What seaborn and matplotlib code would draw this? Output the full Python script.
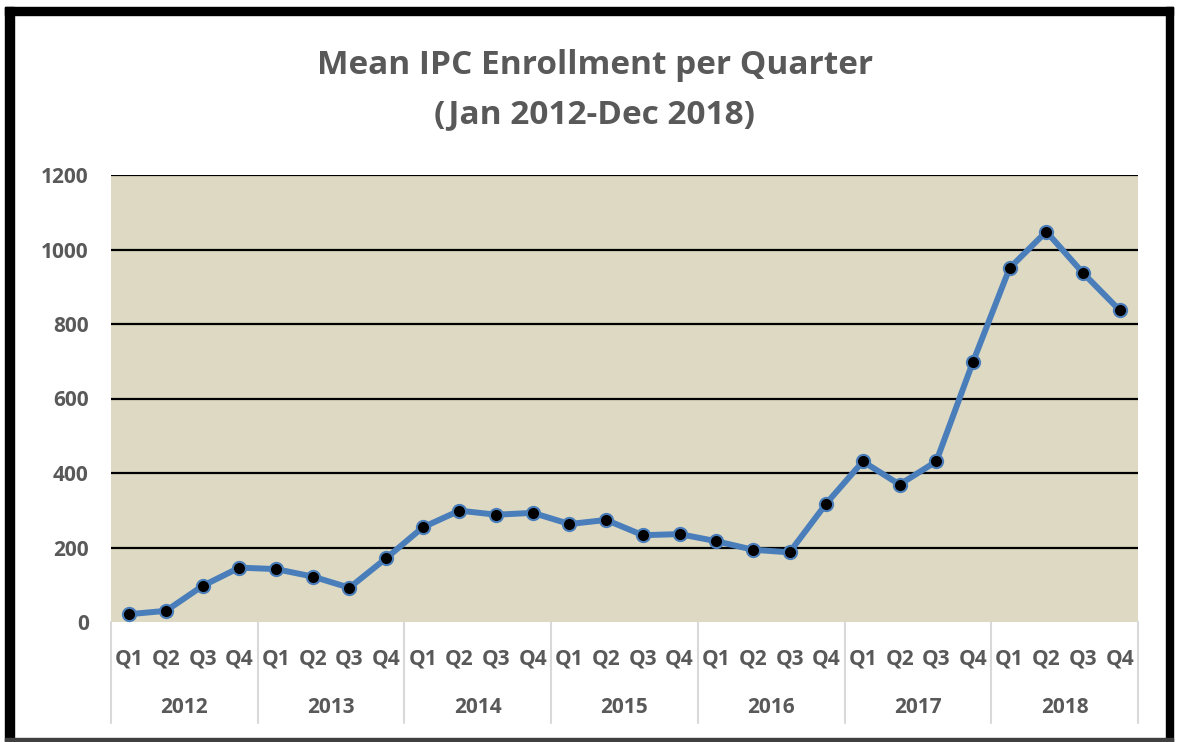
import numpy as np
import pandas as pd
import seaborn as sns
import matplotlib.pyplot as plt
from matplotlib.patches import Rectangle
from matplotlib.transforms import blended_transform_factory

years = ['2012', '2013', '2014', '2015', '2016', '2017', '2018']
quarters = ['Q1', 'Q2', 'Q3', 'Q4']
enrollment = [21, 30, 97, 146,
              142, 122, 92, 171,
              254, 299, 288, 293,
              263, 274, 233, 236,
              217, 194, 187, 318,
              431, 369, 431, 698,
              950, 1048, 937, 837]
y_ticks = [0, 200, 400, 600, 800, 1000, 1200]

df = pd.DataFrame({
    'pos': np.arange(len(enrollment)),
    'year': np.repeat(years, 4),
    'quarter': quarters * len(years),
    'value': enrollment,
})

sns.set_style('white')
plt.rcParams['font.family'] = ['Open Sans', 'DejaVu Sans']

grey = '#595959'
blue = '#4A7EBB'

fig = plt.figure(figsize=(11.77, 7.42), dpi=100)
ax = fig.add_axes([111 / 1177, 1 - 622 / 742, (1138 - 111) / 1177, (622 - 175) / 742])
ax.set_facecolor('#DDD9C3')

for v in y_ticks[1:]:
    ax.axhline(v, color='black', lw=1.6, zorder=1)

sns.lineplot(data=df, x='pos', y='value', ax=ax, color=blue, lw=4.3,
             marker='o', markersize=9.5, markerfacecolor='black',
             markeredgecolor=blue, markeredgewidth=1.5, zorder=3)

ax.set_xlim(-0.5, len(enrollment) - 0.5)
ax.set_ylim(0, 1200)
ax.set_yticks(y_ticks)
ax.set_yticklabels([str(v) for v in y_ticks], fontsize=15, fontweight='bold', color=grey)
ax.tick_params(axis='y', length=0, pad=16)
ax.set_xticks(df['pos'])
ax.set_xticklabels(df['quarter'], fontsize=15, fontweight='bold', color=grey)
ax.tick_params(axis='x', length=0, pad=19)
ax.set_xlabel('')
ax.set_ylabel('')
for s in ax.spines.values():
    s.set_visible(False)

trans = blended_transform_factory(ax.transData, ax.transAxes)
for i in range(len(years) + 1):
    xb = i * 4 - 0.5
    ax.plot([xb, xb], [0, -0.225], transform=trans, color='#D9D9D9', lw=1.5, clip_on=False)
for i, yr in enumerate(years):
    ax.text(i * 4 + 1.5, -0.192, yr, transform=trans, ha='center', va='center',
            fontsize=15, fontweight='bold', color=grey)

fig.text(595 / 1177, 1 - 90 / 742, 'Mean IPC Enrollment per Quarter\n(Jan 2012-Dec 2018)',
         ha='center', va='center', fontsize=24, fontweight='bold', color=grey, linespacing=1.62)

# outer frame
fig.patches.append(Rectangle((5 / 1177, 0), 9 / 1177, 1 - 7 / 742, transform=fig.transFigure,
                             color='black', zorder=5))
fig.patches.append(Rectangle((5 / 1177, 1 - 15 / 742), 1168 / 1177, 8 / 742, transform=fig.transFigure,
                             color='black', zorder=5))
fig.patches.append(Rectangle((1166 / 1177, 0), 7 / 1177, 1 - 7 / 742, transform=fig.transFigure,
                             color='black', zorder=5))
fig.patches.append(Rectangle((5 / 1177, 1 / 742), 1168 / 1177, 3 / 742, transform=fig.transFigure,
                             color='#404040', zorder=5))

fig.savefig('out.png', dpi=100)
